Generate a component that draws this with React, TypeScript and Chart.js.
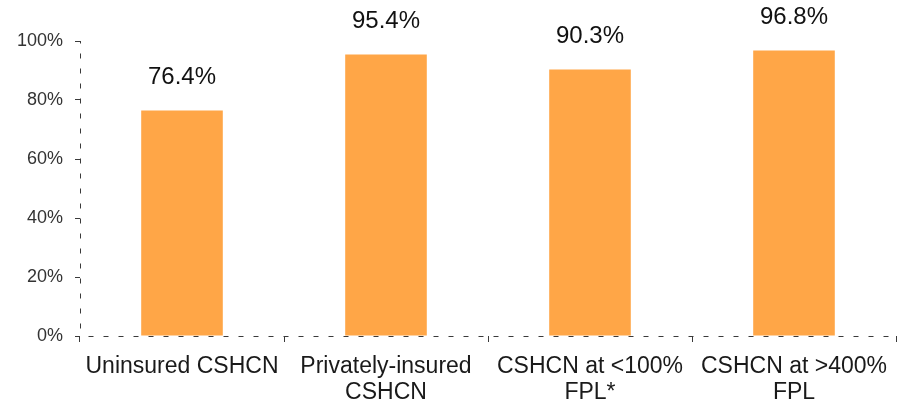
import React, { useEffect, useRef } from "react";
import { Chart, registerables } from "chart.js";

Chart.register(...registerables);

const categories: string[][] = [
  ["Uninsured CSHCN"],
  ["Privately-insured", "CSHCN"],
  ["CSHCN at <100%", "FPL*"],
  ["CSHCN at >400%", "FPL"],
];
const values: number[] = [76.4, 95.4, 90.3, 96.8];
const yTicks: number[] = [0, 20, 40, 60, 80, 100];

const FONT = "'Liberation Sans', Arial, sans-serif";
const BAR_COLOR = "#FFA647";
const AXIS_COLOR = "#3a3a3a";

const valueLabels = {
  id: "valueLabels",
  afterDatasetsDraw(chart: any) {
    const ctx = chart.ctx;
    const meta = chart.getDatasetMeta(0);
    ctx.save();
    ctx.font = `24px ${FONT}`;
    ctx.fillStyle = "#111111";
    ctx.textAlign = "center";
    ctx.textBaseline = "middle";
    meta.data.forEach((bar: any, i: number) => {
      ctx.fillText(values[i].toFixed(1) + "%", bar.x, bar.y - 33);
    });
    ctx.restore();
  },
};

const dashedAxes = {
  id: "dashedAxes",
  afterDraw(chart: any) {
    const ctx = chart.ctx;
    const a = chart.chartArea;
    const y0 = Math.round(chart.scales.y.getPixelForValue(0)) + 0.5;
    const x0 = Math.round(a.left) + 0.5;
    ctx.save();
    ctx.strokeStyle = AXIS_COLOR;
    ctx.lineWidth = 1;
    ctx.setLineDash([5, 10]);
    ctx.beginPath();
    ctx.moveTo(x0 + 8, y0);
    ctx.lineTo(a.right, y0);
    ctx.stroke();
    ctx.beginPath();
    ctx.moveTo(x0, y0 - 8);
    ctx.lineTo(x0, a.top);
    ctx.stroke();
    ctx.restore();
  },
};

export default function App() {
  const ref = useRef<HTMLCanvasElement>(null);
  useEffect(() => {
    document.body.style.margin = "0";
    const chart = new Chart(ref.current!, {
      type: "bar",
      data: {
        labels: categories,
        datasets: [
          {
            data: values,
            backgroundColor: BAR_COLOR,
            categoryPercentage: 0.4,
            barPercentage: 1,
          },
        ],
      },
      options: {
        responsive: false,
        animation: false,
        layout: { padding: { top: 41, right: 0, left: 0, bottom: 0 } },
        plugins: { legend: { display: false }, tooltip: { enabled: false } },
        scales: {
          x: {
            grid: {
              drawOnChartArea: false,
              drawTicks: true,
              tickLength: 6,
              color: AXIS_COLOR,
              offset: true,
            },
            border: { display: false },
            ticks: {
              color: "#1a1a1a",
              font: { family: FONT, size: 23, lineHeight: 1.13 },
              padding: 12,
              maxRotation: 0,
              autoSkip: false,
            },
            afterFit: (s: any) => {
              s.height = 71;
            },
          },
          y: {
            min: 0,
            max: 100,
            afterBuildTicks: (s: any) => {
              s.ticks = yTicks.map((v) => ({ value: v }));
            },
            grid: {
              drawOnChartArea: false,
              drawTicks: true,
              tickLength: 5,
              color: AXIS_COLOR,
            },
            border: { display: false },
            ticks: {
              color: "#333333",
              font: { family: FONT, size: 18 },
              padding: 12,
              callback: (v: any) => v + "%",
            },
            afterFit: (s: any) => {
              s.width = 80;
            },
          },
        },
      },
      plugins: [valueLabels, dashedAxes],
    });
    return () => chart.destroy();
  }, []);
  return (
    <div style={{ position: "absolute", left: 0, top: 0, width: 899, height: 407, background: "#fff" }}>
      <canvas ref={ref} width={899} height={407} />
    </div>
  );
}
